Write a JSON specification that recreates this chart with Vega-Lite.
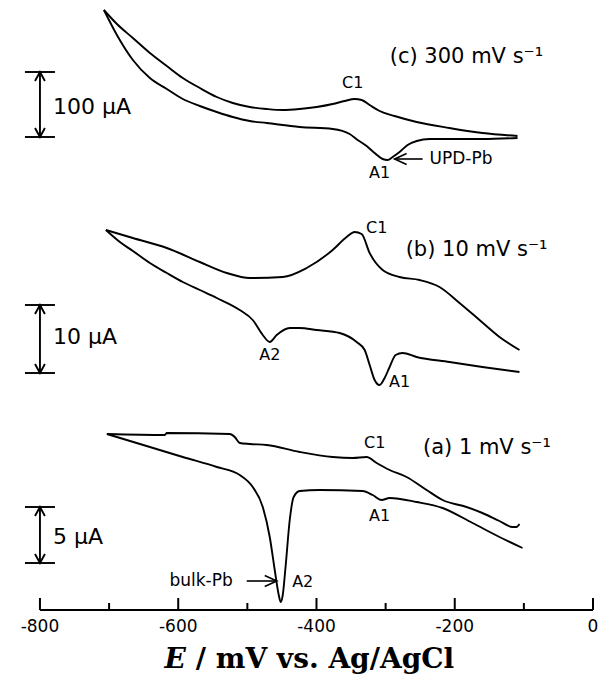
{
  "$schema": "https://vega.github.io/schema/vega-lite/v6.json",
  "width": 602,
  "height": 610,
  "autosize": {"type": "none"},
  "padding": {"left": 0, "top": 0, "right": 0, "bottom": 67},
  "background": "white",
  "config": {"view": {"stroke": null}, "text": {"font": "DejaVu Sans", "color": "black"}},
  "datasets": {
    "cv": [
      {"t": "c-up", "E": -707.5, "i": 600}, {"t": "c-up", "E": -688.7, "i": 586}, {"t": "c-up", "E": -665.6, "i": 572}, {"t": "c-up", "E": -641, "i": 557}, {"t": "c-up", "E": -616.5, "i": 544}, {"t": "c-up", "E": -593.4, "i": 532}, {"t": "c-up", "E": -568.8, "i": 522}, {"t": "c-up", "E": -544.2, "i": 513}, {"t": "c-up", "E": -521.1, "i": 507}, {"t": "c-up", "E": -496.5, "i": 503}, {"t": "c-up", "E": -472, "i": 501}, {"t": "c-up", "E": -448.8, "i": 500}, {"t": "c-up", "E": -424.3, "i": 501}, {"t": "c-up", "E": -399.7, "i": 503}, {"t": "c-up", "E": -376.6, "i": 506}, {"t": "c-up", "E": -359.2, "i": 509}, {"t": "c-up", "E": -344.8, "i": 511}, {"t": "c-up", "E": -334.7, "i": 510}, {"t": "c-up", "E": -323.1, "i": 505}, {"t": "c-up", "E": -308.7, "i": 499}, {"t": "c-up", "E": -287, "i": 494}, {"t": "c-up", "E": -255.2, "i": 488}, {"t": "c-up", "E": -207.5, "i": 482}, {"t": "c-up", "E": -159.8, "i": 477}, {"t": "c-up", "E": -109.2, "i": 474},
      {"t": "c-lo", "E": -707.5, "i": 600}, {"t": "c-lo", "E": -688.7, "i": 575}, {"t": "c-lo", "E": -665.6, "i": 550}, {"t": "c-lo", "E": -641, "i": 532}, {"t": "c-lo", "E": -616.5, "i": 521}, {"t": "c-lo", "E": -593.4, "i": 511}, {"t": "c-lo", "E": -568.8, "i": 504}, {"t": "c-lo", "E": -544.2, "i": 498}, {"t": "c-lo", "E": -521.1, "i": 493}, {"t": "c-lo", "E": -496.5, "i": 489}, {"t": "c-lo", "E": -472, "i": 487}, {"t": "c-lo", "E": -424.3, "i": 483}, {"t": "c-lo", "E": -376.6, "i": 481}, {"t": "c-lo", "E": -352, "i": 476}, {"t": "c-lo", "E": -340.5, "i": 470}, {"t": "c-lo", "E": -327.5, "i": 464}, {"t": "c-lo", "E": -315.9, "i": 457}, {"t": "c-lo", "E": -304.3, "i": 451}, {"t": "c-lo", "E": -297.1, "i": 450}, {"t": "c-lo", "E": -289.9, "i": 453}, {"t": "c-lo", "E": -279.8, "i": 458}, {"t": "c-lo", "E": -268.2, "i": 465}, {"t": "c-lo", "E": -255, "i": 469}, {"t": "c-lo", "E": -236.4, "i": 471}, {"t": "c-lo", "E": -207.5, "i": 471}, {"t": "c-lo", "E": -160, "i": 471}, {"t": "c-lo", "E": -109.2, "i": 472},
      {"t": "b-up", "E": -704.6, "i": 380}, {"t": "b-up", "E": -665.6, "i": 372}, {"t": "b-up", "E": -616.5, "i": 362}, {"t": "b-up", "E": -568.8, "i": 348}, {"t": "b-up", "E": -529.8, "i": 337}, {"t": "b-up", "E": -496.5, "i": 332}, {"t": "b-up", "E": -448.8, "i": 333}, {"t": "b-up", "E": -414.2, "i": 342}, {"t": "b-up", "E": -376.6, "i": 360}, {"t": "b-up", "E": -356.4, "i": 373}, {"t": "b-up", "E": -344.8, "i": 378}, {"t": "b-up", "E": -334.7, "i": 376}, {"t": "b-up", "E": -323.1, "i": 357}, {"t": "b-up", "E": -304.3, "i": 340}, {"t": "b-up", "E": -279.8, "i": 333}, {"t": "b-up", "E": -250.9, "i": 330}, {"t": "b-up", "E": -222, "i": 323}, {"t": "b-up", "E": -193.1, "i": 307}, {"t": "b-up", "E": -164.2, "i": 290}, {"t": "b-up", "E": -135.3, "i": 273}, {"t": "b-up", "E": -106.4, "i": 260},
      {"t": "b-lo", "E": -704.6, "i": 380}, {"t": "b-lo", "E": -684.4, "i": 368}, {"t": "b-lo", "E": -665.6, "i": 359}, {"t": "b-lo", "E": -641, "i": 347}, {"t": "b-lo", "E": -616.5, "i": 337}, {"t": "b-lo", "E": -593.4, "i": 328}, {"t": "b-lo", "E": -568.8, "i": 320}, {"t": "b-lo", "E": -544.2, "i": 312}, {"t": "b-lo", "E": -511, "i": 300}, {"t": "b-lo", "E": -492.2, "i": 290}, {"t": "b-lo", "E": -477.7, "i": 275}, {"t": "b-lo", "E": -467.6, "i": 268}, {"t": "b-lo", "E": -457.5, "i": 275}, {"t": "b-lo", "E": -438.7, "i": 282}, {"t": "b-lo", "E": -424.3, "i": 282}, {"t": "b-lo", "E": -399.7, "i": 280}, {"t": "b-lo", "E": -366.5, "i": 277}, {"t": "b-lo", "E": -341.9, "i": 268}, {"t": "b-lo", "E": -330.3, "i": 260}, {"t": "b-lo", "E": -323.1, "i": 245}, {"t": "b-lo", "E": -315.9, "i": 230}, {"t": "b-lo", "E": -308.7, "i": 225}, {"t": "b-lo", "E": -301.4, "i": 232}, {"t": "b-lo", "E": -294.2, "i": 243}, {"t": "b-lo", "E": -285.5, "i": 255}, {"t": "b-lo", "E": -275.4, "i": 257}, {"t": "b-lo", "E": -255.2, "i": 253}, {"t": "b-lo", "E": -207.5, "i": 248}, {"t": "b-lo", "E": -160, "i": 243}, {"t": "b-lo", "E": -106.4, "i": 238},
      {"t": "a-up", "E": -703.2, "i": 176}, {"t": "a-up", "E": -619.4, "i": 175}, {"t": "a-up", "E": -616.5, "i": 177}, {"t": "a-up", "E": -525.4, "i": 176}, {"t": "a-up", "E": -518.2, "i": 173}, {"t": "a-up", "E": -511, "i": 167}, {"t": "a-up", "E": -496.5, "i": 166}, {"t": "a-up", "E": -472, "i": 165}, {"t": "a-up", "E": -424.3, "i": 158}, {"t": "a-up", "E": -376.6, "i": 153}, {"t": "a-up", "E": -347.7, "i": 152}, {"t": "a-up", "E": -327.5, "i": 153}, {"t": "a-up", "E": -313, "i": 147}, {"t": "a-up", "E": -294.2, "i": 140}, {"t": "a-up", "E": -269.7, "i": 133}, {"t": "a-up", "E": -240.8, "i": 120}, {"t": "a-up", "E": -217.6, "i": 110}, {"t": "a-up", "E": -183, "i": 103}, {"t": "a-up", "E": -160, "i": 97}, {"t": "a-up", "E": -135.3, "i": 89}, {"t": "a-up", "E": -116.5, "i": 83}, {"t": "a-up", "E": -110.7, "i": 83}, {"t": "a-up", "E": -106.4, "i": 86},
      {"t": "a-lo", "E": -703.2, "i": 176}, {"t": "a-lo", "E": -641, "i": 163}, {"t": "a-lo", "E": -593.4, "i": 153}, {"t": "a-lo", "E": -544.2, "i": 143}, {"t": "a-lo", "E": -511, "i": 135}, {"t": "a-lo", "E": -492.2, "i": 123}, {"t": "a-lo", "E": -477.7, "i": 103}, {"t": "a-lo", "E": -467.6, "i": 73}, {"t": "a-lo", "E": -460.4, "i": 40}, {"t": "a-lo", "E": -454.6, "i": 15}, {"t": "a-lo", "E": -451.7, "i": 8}, {"t": "a-lo", "E": -448.8, "i": 15}, {"t": "a-lo", "E": -444.5, "i": 45}, {"t": "a-lo", "E": -438.7, "i": 90}, {"t": "a-lo", "E": -433, "i": 113}, {"t": "a-lo", "E": -424.3, "i": 119}, {"t": "a-lo", "E": -395.4, "i": 120}, {"t": "a-lo", "E": -333.2, "i": 119}, {"t": "a-lo", "E": -318.8, "i": 115}, {"t": "a-lo", "E": -305.8, "i": 110}, {"t": "a-lo", "E": -294.2, "i": 112}, {"t": "a-lo", "E": -255.2, "i": 108}, {"t": "a-lo", "E": -217.6, "i": 102}, {"t": "a-lo", "E": -174.3, "i": 87}, {"t": "a-lo", "E": -135.3, "i": 73}, {"t": "a-lo", "E": -102, "i": 62}
    ],
    "ticks": [
      {"E": -800, "kind": "major", "label": "-800"}, {"E": -600, "kind": "major", "label": "-600"}, {"E": -400, "kind": "major", "label": "-400"}, {"E": -200, "kind": "major", "label": "-200"}, {"E": 0, "kind": "major", "label": "0"},
      {"E": -700, "kind": "minor", "label": ""}, {"E": -500, "kind": "minor", "label": ""}, {"E": -300, "kind": "minor", "label": ""}, {"E": -100, "kind": "minor", "label": ""}
    ],
    "axisline": [{"E": -800, "E2": 0}],
    "bars": [
      {"panel": "c", "lo": 473, "hi": 538},
      {"panel": "b", "lo": 237, "hi": 305},
      {"panel": "a", "lo": 47, "hi": 103}
    ],
    "titles": [
      {"E": -294, "i": 553, "text": "(c) 300 mV s⁻¹"},
      {"E": -271, "i": 360, "text": "(b) 10 mV s⁻¹"},
      {"E": -246, "i": 162, "text": "(a) 1 mV s⁻¹"}
    ],
    "scalelabels": [
      {"E": -781, "i": 503, "text": "100 µA"},
      {"E": -781, "i": 273, "text": "10 µA"},
      {"E": -781, "i": 73, "text": "5 µA"}
    ],
    "peaks": [
      {"E": -347.7, "i": 527, "text": "C1"},
      {"E": -308.7, "i": 437, "text": "A1"},
      {"E": -313, "i": 382, "text": "C1"},
      {"E": -467.6, "i": 255, "text": "A2"},
      {"E": -279.8, "i": 228, "text": "A1"},
      {"E": -315.9, "i": 167, "text": "C1"},
      {"E": -308.7, "i": 94, "text": "A1"},
      {"E": -419.9, "i": 28, "text": "A2"}
    ],
    "pointers": [
      {"label": "UPD-Pb", "from": -246.5, "to": -287, "i": 451, "textE": -236.4},
      {"label": "bulk-Pb", "from": -500.9, "to": -457.5, "i": 29, "textE": -521.1}
    ],
    "xtitle": [
      {"E": -589, "i": -50, "part": "E"},
      {"E": -574.6, "i": -50, "part": "/ mV vs. Ag/AgCl"}
    ]
  },
  "layer": [
    {
      "data": {"name": "cv"},
      "mark": {"type": "line", "color": "black", "strokeWidth": 1.9, "interpolate": "monotone"},
      "encoding": {
        "x": {"field": "E", "type": "quantitative", "scale": {"domain": [-857.8, 13], "nice": false, "zero": false}, "axis": null},
        "y": {"field": "i", "type": "quantitative", "scale": {"domain": [0, 610], "nice": false, "zero": false}, "axis": null},
        "detail": {"field": "t"}
      }
    },
    {
      "data": {"name": "axisline"},
      "mark": {"type": "rule", "color": "black", "strokeWidth": 2},
      "encoding": {
        "x": {"field": "E", "type": "quantitative", "axis": null},
        "x2": {"field": "E2"},
        "y": {"datum": 0, "type": "quantitative", "axis": null}
      }
    },
    {
      "data": {"name": "ticks"},
      "transform": [{"filter": "datum.kind === 'major'"}],
      "mark": {"type": "rule", "color": "black", "strokeWidth": 2},
      "encoding": {
        "x": {"field": "E", "type": "quantitative", "axis": null},
        "y": {"datum": 0, "type": "quantitative", "axis": null},
        "y2": {"datum": 12}
      }
    },
    {
      "data": {"name": "ticks"},
      "transform": [{"filter": "datum.kind === 'minor'"}],
      "mark": {"type": "rule", "color": "black", "strokeWidth": 2},
      "encoding": {
        "x": {"field": "E", "type": "quantitative", "axis": null},
        "y": {"datum": 0, "type": "quantitative", "axis": null},
        "y2": {"datum": 7}
      }
    },
    {
      "data": {"name": "ticks"},
      "transform": [{"filter": "datum.kind === 'major'"}],
      "mark": {"type": "text", "align": "center", "baseline": "middle", "fontSize": 17},
      "encoding": {
        "x": {"field": "E", "type": "quantitative", "axis": null},
        "y": {"datum": -17, "type": "quantitative", "axis": null},
        "text": {"field": "label"}
      }
    },
    {
      "data": {"name": "bars"},
      "mark": {"type": "rule", "color": "black", "strokeWidth": 1.9},
      "encoding": {
        "x": {"datum": -800, "type": "quantitative", "axis": null},
        "y": {"field": "lo", "type": "quantitative", "axis": null},
        "y2": {"field": "hi"}
      }
    },
    {
      "data": {"name": "bars"},
      "mark": {"type": "rule", "color": "black", "strokeWidth": 1.9},
      "encoding": {
        "x": {"datum": -821.7, "type": "quantitative", "axis": null},
        "x2": {"datum": -778.3},
        "y": {"field": "lo", "type": "quantitative", "axis": null}
      }
    },
    {
      "data": {"name": "bars"},
      "mark": {"type": "rule", "color": "black", "strokeWidth": 1.9},
      "encoding": {
        "x": {"datum": -821.7, "type": "quantitative", "axis": null},
        "x2": {"datum": -778.3},
        "y": {"field": "hi", "type": "quantitative", "axis": null}
      }
    },
    {
      "data": {"name": "bars"},
      "mark": {"type": "point", "shape": "M-0.55,1L0,0L0.55,1", "filled": false, "stroke": "black", "strokeWidth": 1.9, "size": 324, "opacity": 1},
      "encoding": {
        "x": {"datum": -800, "type": "quantitative", "axis": null},
        "y": {"field": "hi", "type": "quantitative", "axis": null}
      }
    },
    {
      "data": {"name": "bars"},
      "mark": {"type": "point", "shape": "M-0.55,-1L0,0L0.55,-1", "filled": false, "stroke": "black", "strokeWidth": 1.9, "size": 324, "opacity": 1},
      "encoding": {
        "x": {"datum": -800, "type": "quantitative", "axis": null},
        "y": {"field": "lo", "type": "quantitative", "axis": null}
      }
    },
    {
      "data": {"name": "pointers"},
      "mark": {"type": "rule", "color": "black", "strokeWidth": 1.6},
      "encoding": {
        "x": {"field": "from", "type": "quantitative", "axis": null},
        "x2": {"field": "to"},
        "y": {"field": "i", "type": "quantitative", "axis": null}
      }
    },
    {
      "data": {"name": "pointers"},
      "transform": [{"filter": "datum.label === 'UPD-Pb'"}],
      "mark": {"type": "point", "shape": "M1,-0.45L0,0L1,0.45", "filled": false, "stroke": "black", "strokeWidth": 1.6, "size": 576, "opacity": 1},
      "encoding": {
        "x": {"field": "to", "type": "quantitative", "axis": null},
        "y": {"field": "i", "type": "quantitative", "axis": null}
      }
    },
    {
      "data": {"name": "pointers"},
      "transform": [{"filter": "datum.label === 'bulk-Pb'"}],
      "mark": {"type": "point", "shape": "M-1,-0.45L0,0L-1,0.45", "filled": false, "stroke": "black", "strokeWidth": 1.6, "size": 576, "opacity": 1},
      "encoding": {
        "x": {"field": "to", "type": "quantitative", "axis": null},
        "y": {"field": "i", "type": "quantitative", "axis": null}
      }
    },
    {
      "data": {"name": "pointers"},
      "transform": [{"filter": "datum.label === 'UPD-Pb'"}],
      "mark": {"type": "text", "align": "left", "baseline": "middle", "fontSize": 17},
      "encoding": {
        "x": {"field": "textE", "type": "quantitative", "axis": null},
        "y": {"field": "i", "type": "quantitative", "axis": null},
        "text": {"field": "label"}
      }
    },
    {
      "data": {"name": "pointers"},
      "transform": [{"filter": "datum.label === 'bulk-Pb'"}],
      "mark": {"type": "text", "align": "right", "baseline": "middle", "fontSize": 17},
      "encoding": {
        "x": {"field": "textE", "type": "quantitative", "axis": null},
        "y": {"field": "i", "type": "quantitative", "axis": null},
        "text": {"field": "label"}
      }
    },
    {
      "data": {"name": "titles"},
      "mark": {"type": "text", "align": "left", "baseline": "middle", "fontSize": 21},
      "encoding": {
        "x": {"field": "E", "type": "quantitative", "axis": null},
        "y": {"field": "i", "type": "quantitative", "axis": null},
        "text": {"field": "text"}
      }
    },
    {
      "data": {"name": "scalelabels"},
      "mark": {"type": "text", "align": "left", "baseline": "middle", "fontSize": 22},
      "encoding": {
        "x": {"field": "E", "type": "quantitative", "axis": null},
        "y": {"field": "i", "type": "quantitative", "axis": null},
        "text": {"field": "text"}
      }
    },
    {
      "data": {"name": "peaks"},
      "mark": {"type": "text", "align": "center", "baseline": "middle", "fontSize": 16},
      "encoding": {
        "x": {"field": "E", "type": "quantitative", "axis": null},
        "y": {"field": "i", "type": "quantitative", "axis": null},
        "text": {"field": "text"}
      }
    },
    {
      "data": {"name": "xtitle"},
      "transform": [{"filter": "datum.part === 'E'"}],
      "mark": {"type": "text", "align": "right", "baseline": "middle", "font": "DejaVu Serif", "fontSize": 28, "fontWeight": "bold", "fontStyle": "italic"},
      "encoding": {
        "x": {"field": "E", "type": "quantitative", "axis": null},
        "y": {"field": "i", "type": "quantitative", "axis": null},
        "text": {"field": "part"}
      }
    },
    {
      "data": {"name": "xtitle"},
      "transform": [{"filter": "datum.part !== 'E'"}],
      "mark": {"type": "text", "align": "left", "baseline": "middle", "font": "DejaVu Serif", "fontSize": 28, "fontWeight": "bold"},
      "encoding": {
        "x": {"field": "E", "type": "quantitative", "axis": null},
        "y": {"field": "i", "type": "quantitative", "axis": null},
        "text": {"field": "part"}
      }
    }
  ]
}
